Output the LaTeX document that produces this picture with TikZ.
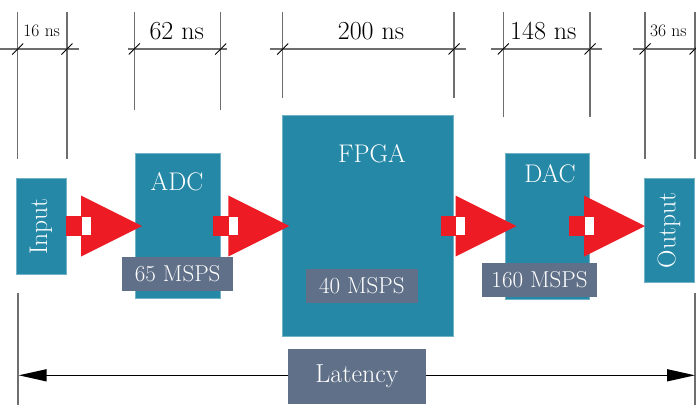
\documentclass[tikz,border=0pt]{standalone}
\usepackage{fontspec}
\usetikzlibrary{arrows.meta}
\definecolor{boxblue}{HTML}{2588A7}
\definecolor{lblgray}{HTML}{607088}
\definecolor{arrred}{HTML}{ED1C24}
\definecolor{dimgray}{HTML}{6E6E6E}
\begin{document}
\begin{tikzpicture}[x=1pt,y=-1pt,
 box/.style={fill=boxblue, draw=boxblue!65!white, line width=0.6pt, inner sep=0pt},
 lbl/.style={fill=lblgray, text=white, inner sep=0pt, font=\fontsize{23}{26}\selectfont},
 boxtxt/.style={text=white, font=\fontsize{25.5}{28}\selectfont, inner sep=0pt},
 dimline/.style={draw=dimgray, line width=1.1pt},
 dimtick/.style={draw=black, line width=0.9pt},
 bigdim/.style={font=\fontsize{26}{30}\selectfont, inner sep=0pt},
 smalldim/.style={font=\fontsize{17.5}{20}\selectfont, inner sep=0pt}]
\useasboundingbox (0,0) rectangle (696,405);

% dimension lines
\foreach \xa/\xb/\yb/\ha/\hb in {17.7/67/159.3/0/79, 134.3/220.7/110/128.3/226.7, 282.7/454/97.7/270/466, 503.3/590/116.7/491/601.7, 645/695/159.3/632.7/700}{
  \draw[dimline] (\xa,12.3) -- (\xa,\yb);
  \draw[dimline] (\xb,12.3) -- (\xb,\yb);
  \draw[dimline] (\ha,49) -- (\hb,49);
  \draw[dimtick] (\xa-5.5,54.5) -- (\xa+5.5,43.5);
  \draw[dimtick] (\xb-5.5,54.5) -- (\xb+5.5,43.5);
}
\node[smalldim] (t1) at (41.7,31) {16 ns};
\node[bigdim] (t2) at (176.7,31) {62 ns};
\node[bigdim] (t3) at (371,31) {200 ns};
\node[bigdim] (t4) at (543.3,31) {148 ns};
\node[smalldim] (t5) at (668.3,31) {36 ns};

% boxes
\node[box, minimum width=50pt, minimum height=96pt] (inp) at (41,226.3) {};
\node[boxtxt, rotate=90] (inpt) at (inp.center) {Input};
\node[box, minimum width=85pt, minimum height=145pt] (adc) at (177.5,225.8) {};
\node[boxtxt] (adct) at (177,181.7) {ADC};
\node[box, minimum width=170.6pt, minimum height=220.3pt] (fpga) at (368,225.8) {};
\node[boxtxt] (fpgat) at (372,153.3) {FPGA};
\node[box, minimum width=84pt, minimum height=145.7pt] (dac) at (547,226.2) {};
\node[boxtxt] (dact) at (550,174) {DAC};
\node[box, minimum width=50pt, minimum height=104pt] (out) at (669,230.3) {};
\node[boxtxt, rotate=90] (outt) at (out.center) {Output};

% red arrows
\foreach \a in {81,228.3,455.5,584}{
  \fill[arrred] (\a-15,215.5) rectangle (\a+10,236);
  \fill[arrred] (\a,195.5) -- (\a+61,226) -- (\a,256.5) -- cycle;
  \fill[white] (\a+0.5,217) rectangle (\a+9.5,235);
}

% rate labels
\node[lbl, minimum width=111.3pt, minimum height=33.4pt] (r1) at (177.7,274) {65 MSPS};
\node[lbl, minimum width=111.7pt, minimum height=33.4pt] (r2) at (361.8,286) {40 MSPS};
\node[lbl, minimum width=114.4pt, minimum height=33.4pt] (r3) at (539.5,280) {160 MSPS};

% latency
\draw[dimline] (18,293) -- (18,405);
\draw[dimline] (695,293) -- (695,405);
\coordinate (la) at (18.7,375.3);
\coordinate (lb) at (695,375.3);
\draw[line width=1.5pt, {Triangle[length=28pt,width=12pt]}-{Triangle[length=28pt,width=12pt]}] (la) -- (lb);
\node[lbl, minimum width=138pt, minimum height=55pt, font=\fontsize{26}{30}\selectfont] (lat) at (357,376.5) {Latency};
\end{tikzpicture}
\end{document}
